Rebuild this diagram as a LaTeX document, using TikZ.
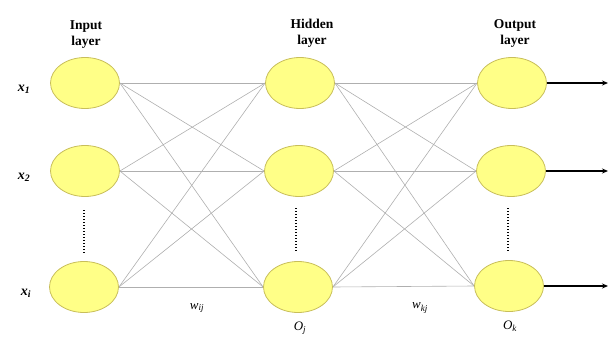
\documentclass[tikz,border=0pt]{standalone}
\usepackage{fontspec}
\setmainfont{Liberation Serif}
\usetikzlibrary{arrows.meta,shapes.geometric,backgrounds}
\definecolor{nodefill}{RGB}{255,255,135}
\definecolor{nodeedge}{RGB}{200,190,90}
\definecolor{wire}{RGB}{175,175,175}
\begin{document}
\begin{tikzpicture}[x=1pt,y=-1pt,
  neuron/.style={ellipse,draw=nodeedge,fill=nodefill,line width=0.8pt,minimum width=69pt,minimum height=51pt,inner sep=0pt},
  wireline/.style={draw=wire,line width=0.6pt},
  outarrow/.style={draw=black,line width=1.6pt,-{Stealth[length=6pt,width=5pt]}},
  dotline/.style={draw=black,line width=2.4pt,dash pattern=on 1.4pt off 1.6pt},
  title/.style={font=\bfseries\fontsize{13.5}{16}\selectfont,align=center,inner sep=0pt},
  lab/.style={font=\bfseries\itshape\fontsize{14}{16}\selectfont,inner sep=0pt},
  wlab/.style={font=\itshape\fontsize{13}{15}\selectfont,inner sep=0pt}]
\useasboundingbox (0,0) rectangle (610,337);
% nodes
\node[neuron] (i1) at (85,83) {};
\node[neuron] (i2) at (85,171) {};
\node[neuron] (i3) at (84,287) {};
\node[neuron] (h1) at (300,83) {};
\node[neuron] (h2) at (299,171) {};
\node[neuron] (h3) at (298,287) {};
\node[neuron] (o1) at (512,83) {};
\node[neuron] (o2) at (511,171) {};
\node[neuron] (o3) at (509,286) {};
% wires
\begin{pgfonlayer}{background}
\foreach \a in {i1,i2,i3}{\foreach \b in {h1,h2,h3}{\draw[wireline] (\a.east) -- (\b.west);}}
\foreach \a in {h1,h2,h3}{\foreach \b in {o1,o2,o3}{\draw[wireline] (\a.east) -- (\b.west);}}
\end{pgfonlayer}
% output arrows
\coordinate (e1) at (608,83);
\coordinate (e2) at (608,171);
\coordinate (e3) at (608,286);
\draw[outarrow] (o1.east) -- (e1);
\draw[outarrow] (o2.east) -- (e2);
\draw[outarrow] (o3.east) -- (e3);
% dots
\coordinate (d1a) at (84,210); \coordinate (d1b) at (84,253);
\coordinate (d2a) at (296,208); \coordinate (d2b) at (296,252);
\coordinate (d3a) at (508,208); \coordinate (d3b) at (508,252);
\draw[dotline] (d1a) -- (d1b);
\draw[dotline] (d2a) -- (d2b);
\draw[dotline] (d3a) -- (d3b);
% titles
\node[title] (t1) at (86,35) {Input\\layer};
\node[title] (t2) at (312,33) {Hidden\\layer};
\node[title] (t3) at (515,33) {Output\\layer};
% labels
\node[lab] (l1) at (24,89) {x\textsubscript{1}};
\node[lab] (l2) at (24,177) {x\textsubscript{2}};
\node[lab] (l3) at (26,293) {x\textsubscript{i}};
\node[wlab] (w1) at (197,308) {w\textsubscript{ij}};
\node[wlab] (w2) at (420,308) {w\textsubscript{kj}};
\node[wlab,anchor=north] (oj) at (300,322) {O\textsubscript{j}};
\node[wlab,anchor=north] (ok) at (510,321) {O\textsubscript{k}};
\end{tikzpicture}
\end{document}
